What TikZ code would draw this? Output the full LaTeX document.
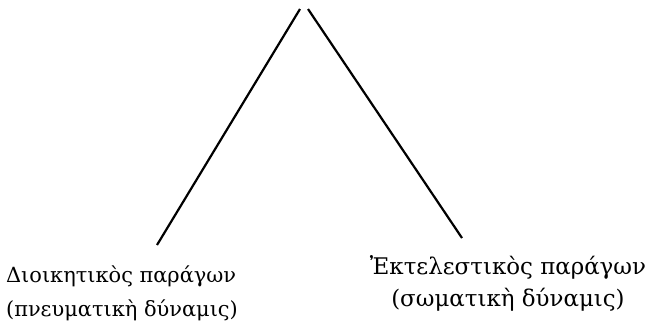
\documentclass[tikz,border=0pt]{standalone}
\usepackage{fontspec}
\setmainfont{DejaVu Serif}
\usetikzlibrary{positioning}

\begin{document}
\begin{tikzpicture}[x=1bp,y=-1bp,line width=2.2bp,
    factor/.style={inner sep=0pt}]
  \useasboundingbox (0,0) rectangle (653,324);

  % The two factors, set under the ends of the legs.
  \node[factor,align=left,anchor=north west,
    font=\fontsize{21}{31}\selectfont] (admin) at (5,265)
    {Διοικητικὸς παράγων\\[3bp](πνευματικὴ δύναμις)};
  \node[factor,align=center,anchor=north,
    font=\fontsize{23}{30}\selectfont] (exec) at (508,254)
    {Ἐκτελεστικὸς παράγων\\[3bp](σωματικὴ δύναμις)};

  % Legs of the split; they part just under the top.
  \coordinate (topL) at (300,9);
  \coordinate (topR) at (308,9);
  \coordinate (footL) at (157,245);
  \coordinate (footR) at (462,238);
  \draw (topL) -- (footL);
  \draw (topR) -- (footR);
\end{tikzpicture}
\end{document}
